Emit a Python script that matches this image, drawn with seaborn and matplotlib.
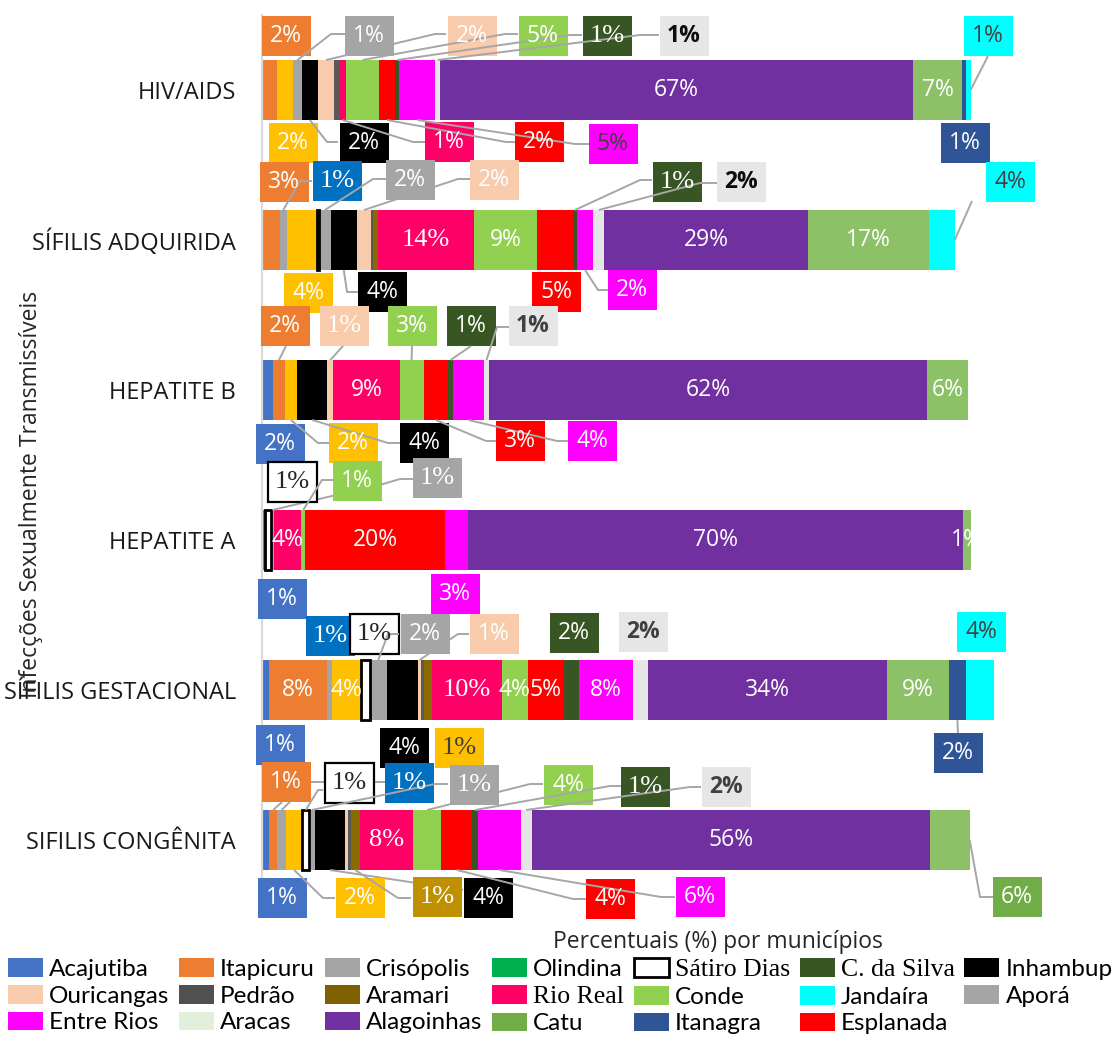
import matplotlib
matplotlib.use("Agg")
import matplotlib.pyplot as plt
from matplotlib import font_manager
from matplotlib.font_manager import FontProperties
from matplotlib.patches import Patch, Rectangle
import numpy as np
import pandas as pd
import seaborn as sns

# ---------------------------------------------------------------- data
categories = ["HIV/AIDS", "SÍFILIS ADQUIRIDA", "HEPATITE B", "HEPATITE A",
              "SÍFILIS GESTACIONAL", "SIFILIS CONGÊNITA"]

# share (%) of each municipality, one value per category (same order)
acajutiba  = [0.0, 0.0, 1.64, 0.5, 1.03, 1.03]
itapicuru  = [2.2, 2.6, 1.65, 0.0, 8.25, 1.23]
crisopolis = [0.0, 0.95, 0.0, 0.0, 0.7, 1.17]
demais     = [2.3, 4.25, 1.74, 0.0, 4.06, 2.36]
satiro     = [0.0, 0.3, 0.0, 0.8, 1.27, 0.93]
apora      = [1.2, 1.74, 0.0, 0.5, 2.4, 0.8]
inhambup   = [2.3, 3.6, 4.3, 0.0, 4.4, 4.34]
ouricangas = [2.3, 2.1, 0.8, 0.0, 0.5, 0.38]
pedrao     = [0.6, 0.3, 0.0, 0.0, 0.35, 0.38]
aramari    = [0.0, 0.6, 0.0, 0.0, 1.17, 1.27]
rio_real   = [1.1, 13.6, 9.4, 3.8, 9.9, 7.55]
conde      = [4.6, 8.9, 3.4, 0.6, 3.6, 4.0]
esplanada  = [2.3, 5.1, 3.45, 19.8, 5.1, 4.38]
c_da_silva = [0.6, 0.6, 0.75, 0.0, 2.2, 0.8]
entre_rios = [5.1, 2.26, 4.3, 3.2, 7.6, 6.03]
aracas     = [0.6, 1.6, 0.8, 0.0, 2.1, 1.56]
alagoinhas = [67.0, 28.85, 61.85, 70.0, 33.8, 56.3]
catu       = [6.9, 17.1, 5.9, 1.1, 8.8, 5.66]
itanagra   = [0.5, 0.0, 0.0, 0.0, 2.4, 0.0]
jandaira   = [0.7, 3.6, 0.0, 0.0, 3.96, 0.0]
olindina   = [0.0, 0.0, 0.0, 0.0, 0.0, 0.0]

values = pd.DataFrame({
    "Acajutiba": acajutiba, "Itapicuru": itapicuru, "Crisópolis": crisopolis,
    "Demais": demais, "Sátiro Dias": satiro, "Aporá": apora,
    "Inhambup": inhambup, "Ouricangas": ouricangas, "Pedrão": pedrao,
    "Aramari": aramari, "Rio Real": rio_real, "Conde": conde,
    "Esplanada": esplanada, "C. da Silva": c_da_silva, "Entre Rios": entre_rios,
    "Aracas": aracas, "Alagoinhas": alagoinhas, "Catu": catu,
    "Itanagra": itanagra, "Jandaíra": jandaira, "Olindina": olindina,
}, index=categories)
series_names = list(values.columns)

bar_colors = {
    "Acajutiba": "#4472C4", "Itapicuru": "#ED7D31", "Crisópolis": "#A5A5A5",
    "Demais": "#FFC000", "Sátiro Dias": "#FFFFFF", "Aporá": "#A5A5A5",
    "Inhambup": "#000000", "Ouricangas": "#F8CBAD", "Pedrão": "#595959",
    "Aramari": "#8A6A00", "Rio Real": "#FF0066", "Conde": "#92D050",
    "Esplanada": "#FF0000", "C. da Silva": "#375623", "Entre Rios": "#FF00FF",
    "Aracas": "#E7E6E6", "Alagoinhas": "#7030A0", "Catu": "#8CC168",
    "Itanagra": "#2F5597", "Jandaíra": "#00FFFF", "Olindina": "#00B050",
}
label_colors = dict(bar_colors, **{"Crisópolis": "#0070C0", "Aramari": "#BF9000",
                                   "Catu": "#70AD47"})
legend_colors = dict(bar_colors, **{"Aracas": "#E2EFDA", "Catu": "#70AD47",
                                    "Pedrão": "#505050", "Aramari": "#7F6000"})

legend_order = ["Acajutiba", "Ouricangas", "Entre Rios", "Itapicuru", "Pedrão",
                "Aracas", "Crisópolis", "Aramari", "Alagoinhas", "Olindina",
                "Rio Real", "Catu", "Sátiro Dias", "Conde", "Itanagra",
                "C. da Silva", "Jandaíra", "Esplanada", "Inhambup", "Aporá"]

# ---------------------------------------------------------------- fonts
sns.set_theme(style="white")
available = {f.name for f in font_manager.fontManager.ttflist}


def fam(*names):
    return [n for n in names if n in available] + ["DejaVu Sans"]


SANS = fam("Open Sans")
SERIF = fam("Liberation Serif", "DejaVu Serif")
CAL = fam("Lato")
plt.rcParams["font.family"] = SANS

FS_SANS, FS_SERIF = 16.5, 19

# ---------------------------------------------------------------- layout
W, H = 1113, 1048
X0, PPX = 261.5, 7.07     # pixel of 0 %, pixels per percent
Y0, PPY = 90.0, 150.0     # pixel of the first row centre, pixels per row
XMAX = 118

fig = plt.figure(figsize=(W / 100, H / 100), dpi=100)
ax = fig.add_axes([X0 / W, 1 - (Y0 + 5.5 * PPY) / H, XMAX * PPX / W, 6 * PPY / H])


def to_data(p):
    return (p[0] - X0) / PPX, (p[1] - Y0) / PPY


cum = values.cumsum(axis=1)
start = cum - values

# stacked bars: cumulative totals drawn from the widest to the narrowest
for name in reversed(series_names):
    sns.barplot(x=cum[name].values, y=categories, orient="h",
                color=bar_colors[name], width=0.4, saturation=1,
                errorbar=None, linewidth=0, ax=ax)

# outline of the white "Sátiro Dias" segments
sat = values["Sátiro Dias"].values
rows = np.arange(len(categories))
mask = sat > 0
ax.barh(rows[mask], sat[mask], left=start["Sátiro Dias"].values[mask], height=0.4,
        fill=False, edgecolor="black", linewidth=2, zorder=3)

ax.set_xlim(0, XMAX)
ax.set_ylim(5.5, -0.5)
ax.set_xlabel("")
ax.set_ylabel("")
ax.set_xticks([])
for s in ["top", "right", "bottom"]:
    ax.spines[s].set_visible(False)
ax.spines["left"].set_color("#D9D9D9")
ax.spines["left"].set_linewidth(1.6)
ax.tick_params(axis="y", length=0, pad=18.5)
for t in ax.get_yticklabels():
    t.set_fontfamily(SANS)
    t.set_fontsize(17)
    t.set_color("#1A1A1A")


def pct(v):
    return f"{int(np.floor(v + 0.5))}%"


# ---------------------------------------------------------------- boxed labels
# row, series, box centre (px), leader elbow points (px), style
BOX_LABELS = [
    (0, "Itapicuru", (286, 36), None, {}),
    (0, "Aporá", (369, 36), [(331, 34), (345, 34)], {}),
    (0, "Ouricangas", (472, 36), [(435, 34), (446, 34)], {}),
    (0, "Conde", (543, 36), [(505, 34), (518, 34)], {}),
    (0, "C. da Silva", (607, 36), [(570, 35), (582, 35)], {"serif": True}),
    (0, "Aracas", (684, 36), [(640, 35), (659, 35)], {"bold": True, "tc": "#0D0D0D"}),
    (0, "Jandaíra", (988, 36), [(988, 56)], {"start": "end", "tc": "#404040"}),
    (0, "Demais", (293, 143), None, {}),
    (0, "Inhambup", (364, 143), [(327, 142), (338, 142)], {}),
    (0, "Rio Real", (449, 142), [(413, 142), (425, 142)], {}),
    (0, "Esplanada", (539, 142), [(506, 142), (515, 142)], {}),
    (0, "Entre Rios", (613, 144), [(575, 144), (589, 144)], {"tc": "#404040"}),
    (0, "Itanagra", (965, 143), None, {}),

    (1, "Itapicuru", (284, 182), None, {}),
    (1, "Crisópolis", (337, 181), [(300, 181), (312, 181)], {"serif": True}),
    (1, "Aporá", (410, 180), [(373, 179), (386, 179)], {}),
    (1, "Ouricangas", (494, 180), [(458, 179), (470, 179)], {}),
    (1, "C. da Silva", (677, 182), [(640, 180), (652, 180)], {"serif": True}),
    (1, "Aracas", (741, 182), [(700, 183), (717, 183)], {"bold": True, "tc": "#0D0D0D"}),
    (1, "Jandaíra", (1010, 182), [(972, 201)], {"start": "end", "tc": "#404040"}),
    (1, "Demais", (308, 293), None, {}),
    (1, "Inhambup", (382, 292), [(347, 292), (358, 292)], {}),
    (1, "Esplanada", (556, 292), None, {}),
    (1, "Entre Rios", (632, 290), [(598, 290), (608, 290)], {}),

    (2, "Itapicuru", (285, 326), [(286, 346)], {}),
    (2, "Ouricangas", (344, 326), [(343, 346)], {"serif": True}),
    (2, "Conde", (412, 326), [(412, 346)], {}),
    (2, "C. da Silva", (471, 326), [(471, 346)], {}),
    (2, "Aracas", (533, 326), [(497, 327), (509, 327)], {"bold": True, "tc": "#404040"}),
    (2, "Acajutiba", (280, 444), None, {}),
    (2, "Demais", (353, 443), [(318, 443), (329, 443)], {}),
    (2, "Inhambup", (424, 443), [(388, 443), (400, 443)], {}),
    (2, "Esplanada", (520, 441), [(486, 441), (496, 441)], {}),
    (2, "Entre Rios", (592, 441), [(557, 441), (568, 441)], {}),

    (3, "Sátiro Dias", (292, 482), None, {"serif": True}),
    (3, "Conde", (357, 481), [(322, 480), (333, 480)], {}),
    (3, "Aporá", (437, 478), [(383, 484), (400, 479), (413, 479)],
     {"serif": True, "behind": True}),
    (3, "Acajutiba", (282, 599), None, {}),
    (3, "Entre Rios", (455, 594), None, {}),

    (4, "Crisópolis", (330, 636), None, {"serif": True}),
    (4, "Sátiro Dias", (374, 634), None, {"serif": True}),
    (4, "Aporá", (425, 634), [(388, 634), (399, 634)], {}),
    (4, "Ouricangas", (494, 634), [(458, 634), (469, 634)], {}),
    (4, "C. da Silva", (574, 633), None, {}),
    (4, "Aracas", (643, 632), None, {"bold": True, "tc": "#404040"}),
    (4, "Jandaíra", (981, 632), None, {"tc": "#404040"}),
    (4, "Acajutiba", (280, 745), None, {}),
    (4, "Inhambup", (404, 748), None, {}),
    (4, "Aramari", (459, 748), None, {"serif": True, "fc": "#FFC000", "tc": "#404040"}),
    (4, "Itanagra", (958, 753), [(958, 733)], {}),

    (5, "Itapicuru", (286, 782), [(282, 802)], {}),
    (5, "Crisópolis", (409, 783), [(310, 782), (385, 782)],
     {"serif": True, "behind": True}),
    (5, "Sátiro Dias", (349, 783), [(318, 790), (323, 790)], {"serif": True}),
    (5, "Aporá", (474, 785), [(435, 784), (448, 784)], {"serif": True}),
    (5, "Conde", (568, 785), [(530, 784), (543, 784)], {}),
    (5, "C. da Silva", (645, 787), [(610, 786), (621, 786)], {"serif": True}),
    (5, "Aracas", (726, 787), [(690, 787), (701, 787)], {"bold": True, "tc": "#404040"}),
    (5, "Acajutiba", (282, 898), None, {}),
    (5, "Demais", (360, 898), [(323, 898), (335, 898)], {}),
    (5, "Aramari", (437, 897), [(398, 898), (411, 898)], {"serif": True}),
    (5, "Inhambup", (488, 898), [(463, 890)], {"behind": True}),
    (5, "Esplanada", (610, 899), [(573, 899), (586, 899)], {}),
    (5, "Entre Rios", (700, 897), [(661, 897), (675, 897)], {}),
    (5, "Catu", (1017, 897), [(980, 897), (993, 897)], {"start": "end"}),
]

BW, BH = 49 / PPX, 40 / PPY
LEADER = "#A6A6A6"

for row, name, centre, route, st in BOX_LABELS:
    v = values.iloc[row][name]
    bx, by = to_data(centre)
    fc = st.get("fc", label_colors[name])
    outlined = name == "Sátiro Dias"
    ax.add_patch(Rectangle((bx - BW / 2, by - BH / 2), BW, BH, facecolor=fc,
                           edgecolor="black" if outlined else "none",
                           linewidth=1.6 if outlined else 0, zorder=4, clip_on=False))
    tc = st.get("tc", "#262626" if outlined else "white")
    ax.text(bx, by, pct(v), ha="center", va="center", color=tc,
            fontfamily=SERIF if st.get("serif") else SANS,
            fontsize=FS_SERIF if st.get("serif") else FS_SANS,
            fontweight="bold" if st.get("bold") else "normal",
            zorder=7, clip_on=False)
    if route:
        if st.get("start") == "end":
            sx, sy = cum.iloc[row].max(), row
        else:
            sx = start.iloc[row][name] + v / 2
            sy = row - 0.2 if by < row else row + 0.2
        pts = [(sx, sy)] + [to_data(p) for p in route]
        xs, ys = zip(*pts)
        ax.plot(xs, ys, color=LEADER, linewidth=1.4, solid_capstyle="butt",
                zorder=3.5 if st.get("behind") else 5, clip_on=False)

# ---------------------------------------------------------------- labels inside bars
INNER = [
    (0, "Alagoinhas", {}), (0, "Catu", {}),
    (1, "Rio Real", {"serif": True}), (1, "Conde", {}), (1, "Alagoinhas", {}),
    (1, "Catu", {}),
    (2, "Rio Real", {}), (2, "Alagoinhas", {}), (2, "Catu", {}),
    (3, "Rio Real", {}), (3, "Esplanada", {}), (3, "Alagoinhas", {}), (3, "Catu", {}),
    (4, "Itapicuru", {}), (4, "Demais", {}), (4, "Rio Real", {"serif": True}),
    (4, "Conde", {}), (4, "Esplanada", {}), (4, "Entre Rios", {}),
    (4, "Alagoinhas", {}), (4, "Catu", {}),
    (5, "Rio Real", {"serif": True}), (5, "Alagoinhas", {}),
]
for row, name, st in INNER:
    v = values.iloc[row][name]
    ax.text(start.iloc[row][name] + v / 2, row, pct(v), ha="center", va="center",
            color="white", fontfamily=SERIF if st.get("serif") else SANS,
            fontsize=FS_SERIF if st.get("serif") else FS_SANS, zorder=6)

# ---------------------------------------------------------------- axis titles
fig.text(718 / W, 1 - 942 / H, "Percentuais (%) por municípios", ha="center",
         va="center", fontfamily=SANS, fontsize=16.5, color="#262626")
fig.text(31 / W, 1 - 494 / H, "Infecções Sexualmente Transmissíveis", rotation=90,
         ha="center", va="center", fontfamily=SANS, fontsize=16.5, color="#262626")

# ---------------------------------------------------------------- legend
handles = [Patch(facecolor=legend_colors[n],
                 edgecolor="black" if n == "Sátiro Dias" else legend_colors[n],
                 linewidth=2 if n == "Sátiro Dias" else 0) for n in legend_order]
leg = fig.legend(handles, legend_order, ncol=7, loc="upper left",
                 bbox_to_anchor=(8 / W, 1 - 958 / H), frameon=False,
                 prop={"family": CAL, "size": 17.5}, handlelength=1.44,
                 handleheight=0.82, handletextpad=0.25, columnspacing=0.4,
                 labelspacing=0.2, borderpad=0, borderaxespad=0)
for t in leg.get_texts():
    if t.get_text() in ("Sátiro Dias", "C. da Silva", "Rio Real"):
        t.set_fontproperties(FontProperties(family=SERIF, size=18.5))
    t.set_color("#000000")

fig.savefig("out.png", dpi=100)
